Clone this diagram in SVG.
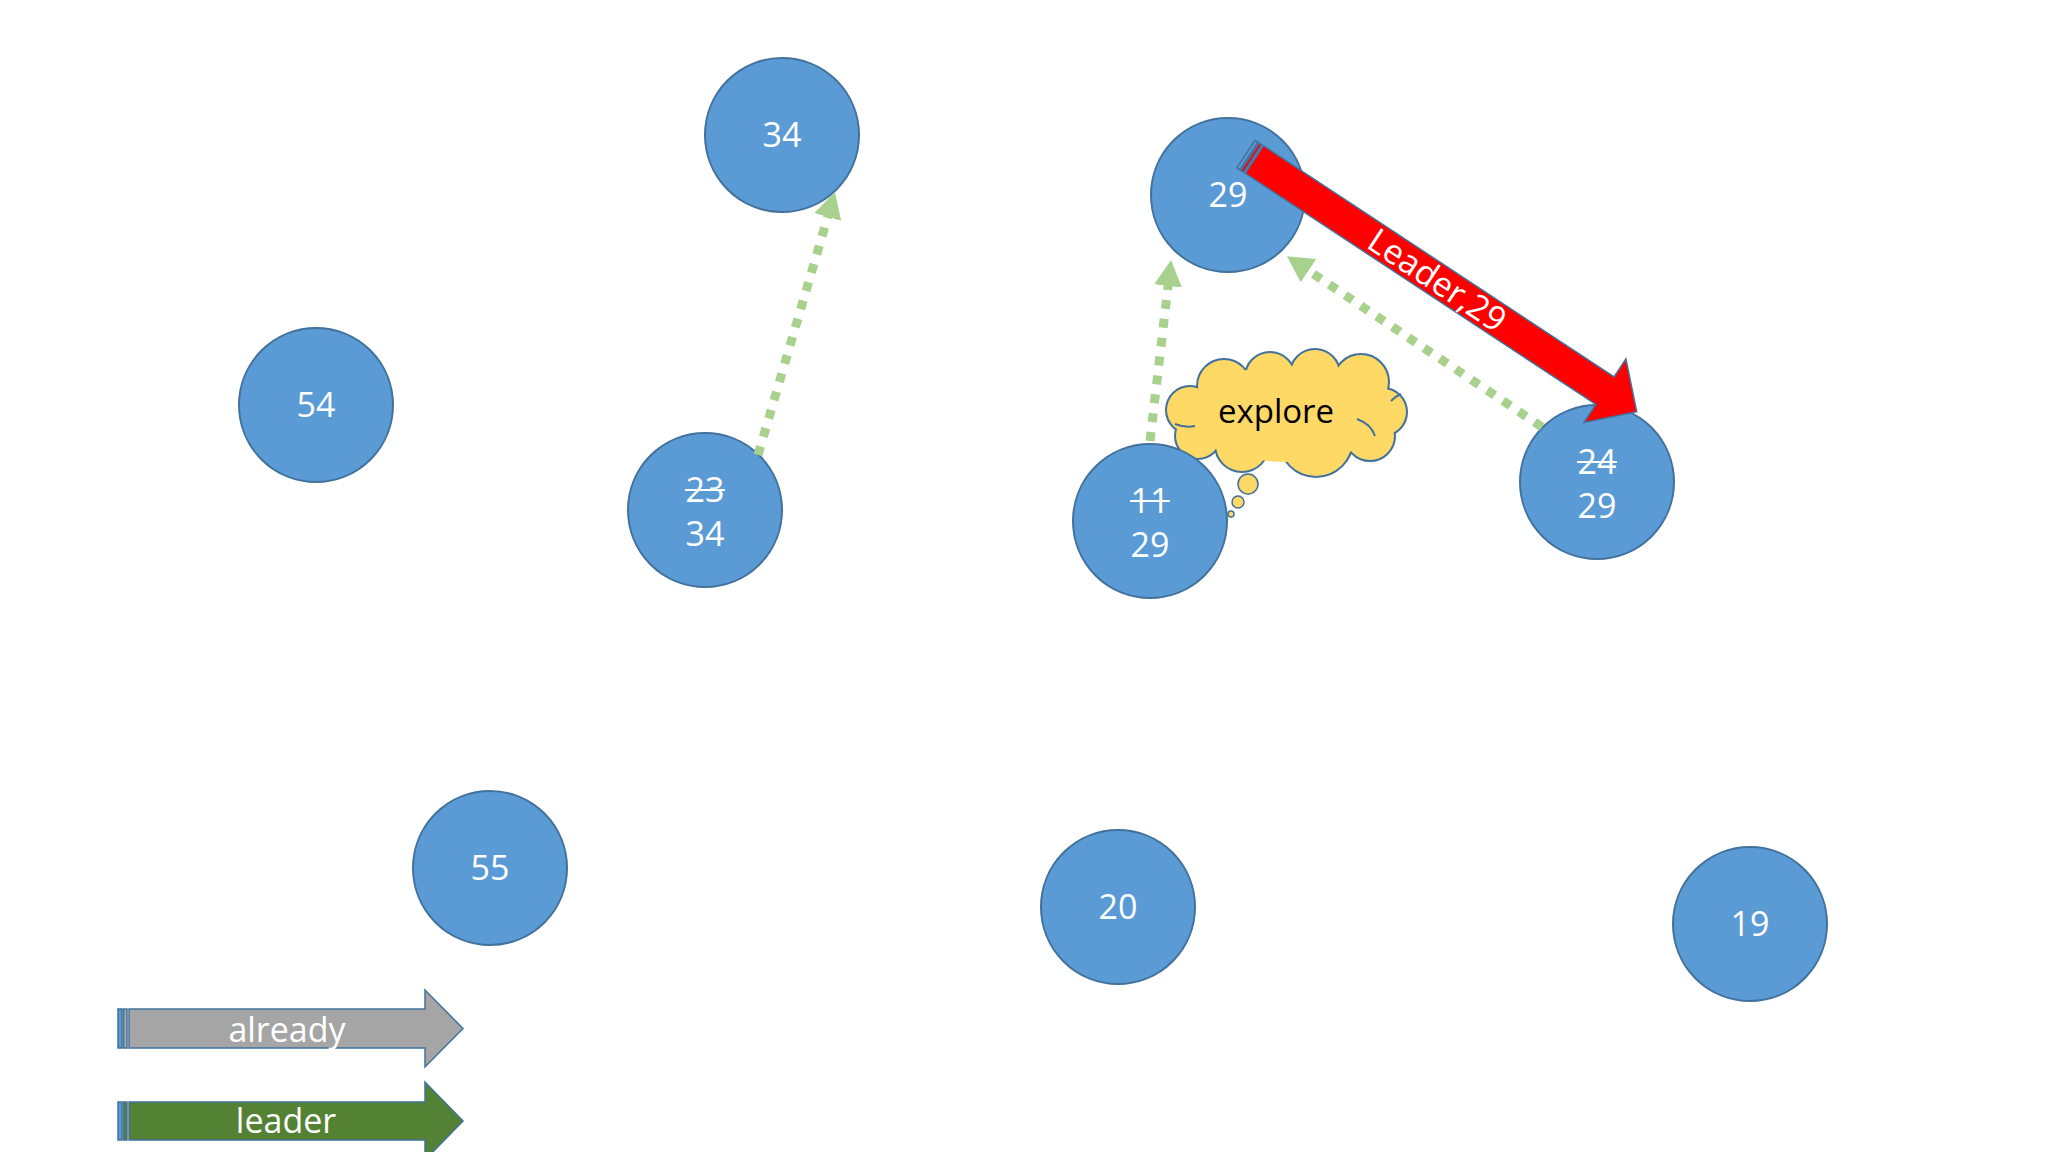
<svg xmlns="http://www.w3.org/2000/svg" width="2048" height="1152" viewBox="0 0 2048 1152">
<style>
.node{fill:#5B9BD5;stroke:#41719C;stroke-width:2}
.lbl{font-family:"Open Sans","Noto Sans","Liberation Sans",sans-serif;font-size:34px;fill:#FFFFFF;text-anchor:middle}
.strike{stroke:#FFFFFF;stroke-width:2}
.dot{fill:none;stroke:#A9D18E;stroke-width:9;stroke-dasharray:9 10}
.cl{fill:#FFD966;stroke:#41719C;stroke-width:4}
.clf{fill:#FFD966;stroke:none}
.cli{fill:none;stroke:#41719C;stroke-width:2}
.stripe{stroke:#41719C;stroke-width:1.5}
</style>
<defs>
<marker id="gh" markerUnits="userSpaceOnUse" markerWidth="26" markerHeight="28" viewBox="0 0 26 28" refX="4" refY="14" orient="auto">
<path d="M0,0 L26,14 L0,28 Z" fill="#A9D18E"/>
</marker>
</defs>
<rect x="0" y="0" width="2048" height="1152" fill="#FFFFFF"/>

<g id="cloud-explore">
<g>
<circle class="cl" cx="1190" cy="410" r="23"/>
<circle class="cl" cx="1198" cy="436" r="22"/>
<circle class="cl" cx="1224" cy="386" r="26"/>
<circle class="cl" cx="1270" cy="377" r="24"/>
<circle class="cl" cx="1315" cy="374" r="24"/>
<circle class="cl" cx="1361" cy="382" r="27"/>
<circle class="cl" cx="1383" cy="412" r="23"/>
<circle class="cl" cx="1370" cy="436" r="24"/>
<circle class="cl" cx="1316" cy="440" r="36"/>
<circle class="cl" cx="1242" cy="445" r="26"/>
</g>
<g>
<circle class="clf" cx="1190" cy="410" r="23"/>
<circle class="clf" cx="1198" cy="436" r="22"/>
<circle class="clf" cx="1224" cy="386" r="26"/>
<circle class="clf" cx="1270" cy="377" r="24"/>
<circle class="clf" cx="1315" cy="374" r="24"/>
<circle class="clf" cx="1361" cy="382" r="27"/>
<circle class="clf" cx="1383" cy="412" r="23"/>
<circle class="clf" cx="1370" cy="436" r="24"/>
<circle class="clf" cx="1316" cy="440" r="36"/>
<circle class="clf" cx="1242" cy="445" r="26"/>
<ellipse class="clf" cx="1287" cy="414" rx="102" ry="48"/>
</g>
<path class="cli" d="M1175,424 Q1185,428 1195,426"/>
<path class="cli" d="M1357,419 Q1371,424 1375,436"/>
<path class="cli" d="M1391,401 Q1396,396 1401,394"/>
<text x="1276" y="423" font-family="'Open Sans','Noto Sans','Liberation Sans',sans-serif" font-size="33" fill="#000000" text-anchor="middle">explore</text>
<circle cx="1248" cy="484" r="10" fill="#FFD966" stroke="#41719C" stroke-width="1.5"/>
<circle cx="1238" cy="502" r="6" fill="#FFD966" stroke="#41719C" stroke-width="1.5"/>
<circle cx="1231" cy="514" r="3" fill="#FFD966" stroke="#41719C" stroke-width="1.5"/>
</g>

<g id="node-34-top">
<circle class="node" cx="782" cy="135" r="77"/>
<text class="lbl" x="782" y="147">34</text>
</g>
<g id="node-29-top">
<circle class="node" cx="1228" cy="195" r="77"/>
<text class="lbl" x="1228" y="207">29</text>
</g>
<g id="node-54">
<circle class="node" cx="316" cy="405" r="77"/>
<text class="lbl" x="316" y="417">54</text>
</g>
<g id="node-23-34">
<circle class="node" cx="705" cy="510" r="77"/>
<text class="lbl" x="705" y="502">23</text>
<line class="strike" x1="685" y1="490" x2="725" y2="490"/>
<text class="lbl" x="705" y="546">34</text>
</g>
<g id="node-11-29">
<circle class="node" cx="1150" cy="521" r="77"/>
<text class="lbl" x="1150" y="513">11</text>
<line class="strike" x1="1130" y1="501" x2="1170" y2="501"/>
<text class="lbl" x="1150" y="557">29</text>
</g>
<g id="node-24-29">
<circle class="node" cx="1597" cy="482" r="77"/>
<text class="lbl" x="1597" y="474">24</text>
<line class="strike" x1="1577" y1="462" x2="1617" y2="462"/>
<text class="lbl" x="1597" y="518">29</text>
</g>
<g id="node-55">
<circle class="node" cx="490" cy="868" r="77"/>
<text class="lbl" x="490" y="880">55</text>
</g>
<g id="node-20">
<circle class="node" cx="1118" cy="907" r="77"/>
<text class="lbl" x="1118" y="919">20</text>
</g>
<g id="node-19">
<circle class="node" cx="1750" cy="924" r="77"/>
<text class="lbl" x="1750" y="936">19</text>
</g>

<g id="connectors">
<line class="dot" x1="758" y1="455" x2="828.8" y2="213.1" marker-end="url(#gh)"/>
<line class="dot" x1="1150" y1="441" x2="1168.5" y2="281.9" marker-end="url(#gh)"/>
<line class="dot" x1="1542" y1="427" x2="1305.2" y2="268.4" marker-end="url(#gh)"/>
<g id="leader-arrow" transform="translate(1246,154) rotate(33.4)">
<rect class="stripe" x="0" y="-16.5" width="3.5" height="33" fill="#5B9BD5"/>
<rect class="stripe" x="5" y="-16.5" width="3" height="33" fill="#FF0000"/>
<path d="M10,-16.5 H430 V-38 L468,0 L430,38 V16.5 H10 Z" fill="#FF0000" stroke="#41719C" stroke-width="1.5"/>
<text x="229" y="12" font-family="'Open Sans','Noto Sans','Liberation Sans',sans-serif" font-size="34" fill="#FFFFFF" text-anchor="middle">Leader,29</text>
</g>
</g>

<g id="legend-already">
<rect class="stripe" x="118" y="1009" width="4" height="39" fill="#5B9BD5"/>
<rect class="stripe" x="123.5" y="1009" width="3.5" height="39" fill="#A5A5A5"/>
<path d="M129,1009 H425 V990 L463,1028.5 L425,1067 V1048 H129 Z" fill="#A5A5A5" stroke="#41719C" stroke-width="1.5"/>
<text class="lbl" x="287" y="1042">already</text>
</g>
<g id="legend-leader">
<rect class="stripe" x="118" y="1102" width="4" height="38" fill="#5B9BD5"/>
<rect class="stripe" x="123.5" y="1102" width="3.5" height="38" fill="#548235"/>
<path d="M129,1102 H425 V1082 L463,1121 L425,1160 V1140 H129 Z" fill="#548235" stroke="#41719C" stroke-width="1.5"/>
<text class="lbl" x="286" y="1133">leader</text>
</g>
</svg>
